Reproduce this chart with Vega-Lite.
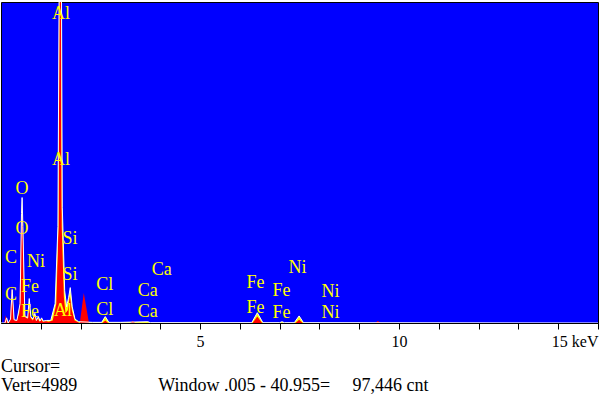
{
  "$schema": "https://vega.github.io/schema/vega-lite/v6.json",
  "width": 597,
  "height": 321,
  "autosize": {"type": "none"},
  "padding": {"left": 1, "top": 2, "right": 2, "bottom": 74},
  "background": "white",
  "config": {
    "view": {"fill": "#0000ff", "stroke": "black", "strokeWidth": 1},
    "font": "Liberation Serif"
  },
  "title": {
    "text": ["Cursor=", "Vert=4989\u00a0\u00a0\u00a0\u00a0\u00a0\u00a0\u00a0\u00a0\u00a0\u00a0\u00a0\u00a0\u00a0\u00a0\u00a0\u00a0\u00a0\u00a0Window .005 - 40.955=\u00a0\u00a0\u00a0\u00a0\u00a097,446 cnt"],
    "orient": "bottom",
    "anchor": "start",
    "align": "left",
    "frame": "group",
    "font": "Liberation Serif",
    "fontSize": 18,
    "fontWeight": "normal",
    "color": "black",
    "lineHeight": 19,
    "offset": 9
  },
  "datasets": {
    "b": [
      {"e": 0, "c": 0}, {"e": 0.10, "c": 0}, {"e": 0.14, "c": 80}, {"e": 0.18, "c": 0},
      {"e": 0.24, "c": 60}, {"e": 0.28, "c": 520}, {"e": 0.33, "c": 50}, {"e": 0.40, "c": 40},
      {"e": 0.48, "c": 300}, {"e": 0.515, "c": 1700}, {"e": 0.53, "c": 1950}, {"e": 0.55, "c": 1500},
      {"e": 0.60, "c": 100}, {"e": 0.67, "c": 80}, {"e": 0.71, "c": 380}, {"e": 0.75, "c": 100},
      {"e": 0.80, "c": 60}, {"e": 0.85, "c": 150}, {"e": 0.89, "c": 40}, {"e": 0.94, "c": 100},
      {"e": 0.98, "c": 30}, {"e": 1.02, "c": 80}, {"e": 1.06, "c": 30}, {"e": 1.15, "c": 40},
      {"e": 1.25, "c": 40}, {"e": 1.36, "c": 300}, {"e": 1.43, "c": 1500}, {"e": 1.46, "c": 5100},
      {"e": 1.52, "c": 5100}, {"e": 1.54, "c": 1800}, {"e": 1.60, "c": 500}, {"e": 1.65, "c": 250},
      {"e": 1.70, "c": 400}, {"e": 1.74, "c": 550}, {"e": 1.79, "c": 250}, {"e": 1.86, "c": 60},
      {"e": 1.95, "c": 20}, {"e": 2.30, "c": 10}, {"e": 2.53, "c": 10}, {"e": 2.62, "c": 100},
      {"e": 2.71, "c": 10}, {"e": 3.00, "c": 10}, {"e": 3.69, "c": 20}, {"e": 3.75, "c": 5},
      {"e": 6.30, "c": 5}, {"e": 6.44, "c": 160}, {"e": 6.58, "c": 5}, {"e": 7.00, "c": 5},
      {"e": 7.06, "c": 20}, {"e": 7.12, "c": 5}, {"e": 7.37, "c": 5}, {"e": 7.49, "c": 110},
      {"e": 7.60, "c": 5}, {"e": 15, "c": 0}
    ],
    "a": [
      {"e": 0, "c": 0}, {"e": 0.08, "c": 0}, {"e": 0.12, "c": 120}, {"e": 0.16, "c": 0},
      {"e": 0.22, "c": 30}, {"e": 0.277, "c": 590}, {"e": 0.32, "c": 60}, {"e": 0.38, "c": 30},
      {"e": 0.46, "c": 150}, {"e": 0.505, "c": 1500}, {"e": 0.525, "c": 1800}, {"e": 0.545, "c": 1500},
      {"e": 0.59, "c": 150}, {"e": 0.66, "c": 60}, {"e": 0.705, "c": 300}, {"e": 0.74, "c": 80},
      {"e": 0.80, "c": 40}, {"e": 0.85, "c": 130}, {"e": 0.88, "c": 30}, {"e": 0.93, "c": 80},
      {"e": 0.96, "c": 20}, {"e": 1.01, "c": 60}, {"e": 1.05, "c": 20}, {"e": 1.10, "c": 30},
      {"e": 1.20, "c": 20}, {"e": 1.30, "c": 40}, {"e": 1.39, "c": 300}, {"e": 1.445, "c": 1500},
      {"e": 1.47, "c": 5200}, {"e": 1.505, "c": 5200}, {"e": 1.525, "c": 1500}, {"e": 1.58, "c": 400},
      {"e": 1.62, "c": 150}, {"e": 1.68, "c": 200}, {"e": 1.73, "c": 420}, {"e": 1.78, "c": 200},
      {"e": 1.85, "c": 40}, {"e": 1.98, "c": 0}, {"e": 2.08, "c": 466}, {"e": 2.21, "c": 0},
      {"e": 2.55, "c": 0}, {"e": 2.62, "c": 40}, {"e": 2.69, "c": 0}, {"e": 3.25, "c": 0},
      {"e": 3.31, "c": 30}, {"e": 3.37, "c": 0}, {"e": 6.32, "c": 0}, {"e": 6.44, "c": 100},
      {"e": 6.56, "c": 0}, {"e": 7.40, "c": 0}, {"e": 7.49, "c": 50}, {"e": 7.58, "c": 0},
      {"e": 9.40, "c": 0}, {"e": 9.47, "c": 30}, {"e": 9.54, "c": 0}, {"e": 15, "c": 0}
    ],
    "labels": [
      {"e": 1.505, "c": 4802, "t": "Al"}, {"e": 1.505, "c": 2533, "t": "Al"},
      {"e": 0.527, "c": 2082, "t": "O"}, {"e": 0.527, "c": 1461, "t": "O"},
      {"e": 0.251, "c": 1010, "t": "C"}, {"e": 0.251, "c": 435, "t": "C"},
      {"e": 0.878, "c": 948, "t": "Ni"}, {"e": 0.727, "c": 559, "t": "Fe"},
      {"e": 0.727, "c": 171, "t": "Fe"}, {"e": 1.731, "c": 1305, "t": "Si"},
      {"e": 1.731, "c": 746, "t": "Si"}, {"e": 1.555, "c": 186, "t": "Al"},
      {"e": 2.608, "c": 591, "t": "Cl"}, {"e": 2.608, "c": 202, "t": "Cl"},
      {"e": 4.038, "c": 824, "t": "Ca"}, {"e": 3.687, "c": 497, "t": "Ca"},
      {"e": 3.687, "c": 171, "t": "Ca"}, {"e": 6.396, "c": 622, "t": "Fe"},
      {"e": 6.396, "c": 233, "t": "Fe"}, {"e": 7.048, "c": 497, "t": "Fe"},
      {"e": 7.048, "c": 155, "t": "Fe"}, {"e": 7.449, "c": 855, "t": "Ni"},
      {"e": 8.277, "c": 482, "t": "Ni"}, {"e": 8.277, "c": 155, "t": "Ni"}
    ]
  },
  "encoding": {
    "x": {
      "field": "e", "type": "quantitative",
      "scale": {"domain": [0, 15], "nice": false, "zero": false},
      "axis": {
        "values": [1, 2, 3, 4, 5, 6, 7, 8, 9, 10, 11, 12, 13, 14, 15],
        "labelExpr": "datum.value == 5 || datum.value == 10 ? datum.label : (datum.value == 15 ? '15 keV' : '')",
        "grid": false, "title": null,
        "domainColor": "black", "tickColor": "black", "tickSize": 6,
        "labelFont": "Liberation Serif", "labelFontSize": 16, "labelColor": "black",
        "labelPadding": 4, "labelFlush": true, "labelOverlap": false
      }
    },
    "y": {
      "field": "c", "type": "quantitative",
      "scale": {"domain": [0, 4989], "nice": false},
      "axis": null
    }
  },
  "layer": [
    {"data": {"name": "b"}, "mark": {"type": "area", "color": "#ffff00", "interpolate": "linear", "clip": true}},
    {"data": {"name": "a"}, "mark": {"type": "area", "color": "#ff0000", "interpolate": "linear", "clip": true}},
    {"data": {"name": "b"}, "mark": {"type": "line", "color": "#ffffff", "strokeWidth": 1, "interpolate": "linear", "clip": true}},
    {"data": {"name": "labels"}, "mark": {"type": "text", "color": "#ffff00", "font": "Liberation Serif", "fontSize": 18, "baseline": "middle", "align": "center"}, "encoding": {"text": {"field": "t"}}}
  ]
}
